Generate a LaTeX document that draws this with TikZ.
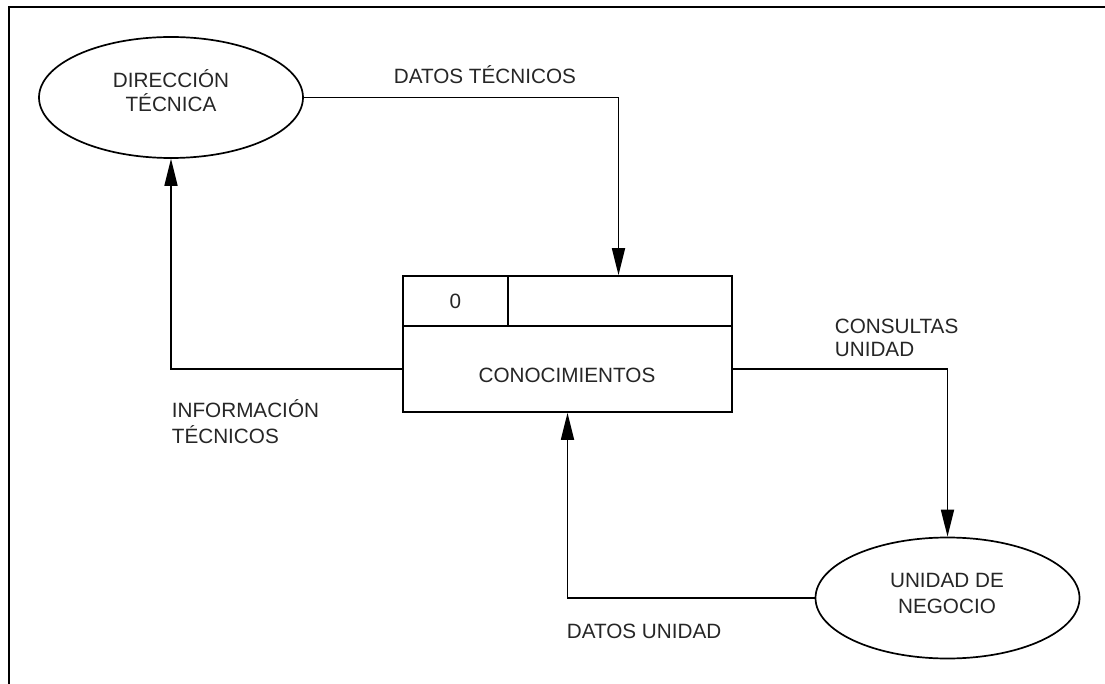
\documentclass[tikz,border=0pt]{standalone}
\usepackage{fontspec}
\setmainfont{Liberation Sans}
\usetikzlibrary{shapes.geometric,arrows.meta}
\begin{document}
\begin{tikzpicture}[x=1pt,y=-1pt,
  line width=1.7pt,
  txt/.style={font=\fontsize{20.7}{25}\selectfont, text=black!85, inner sep=0pt},
  ent/.style={draw, ellipse, minimum width=264pt, minimum height=121pt, inner sep=0pt},
  cell/.style={draw, rectangle, inner sep=0pt, txt},
  flow/.style={-{Triangle[length=27pt,width=13pt]}},
  lbl/.style={txt, align=left, anchor=base west},
  ctr/.style={txt, align=center, anchor=base}]
\useasboundingbox (0,0) rectangle (1105,684);
\draw (9,684) -- (9,7) -- (1105,7);
% external entities
\node[ent] (dt) at (171,97.5) {};
\node[ctr, font=\fontsize{20.7}{24}\selectfont] (dtt) at (171,112) {DIRECCIÓN\\TÉCNICA};
\node[ent] (un) at (947.5,598) {};
\node[ctr, font=\fontsize{20.7}{26}\selectfont] (unt) at (947,613) {UNIDAD DE\\NEGOCIO};
% process
\node[cell, minimum width=105pt, minimum height=50pt] (pid) at (455.5,301) {0};
\node[cell, minimum width=224pt, minimum height=50pt] (pbar) at (620,301) {};
\node[cell, minimum width=329pt, minimum height=86pt] (proc) at (567.5,369) {};
\node[txt] (ptxt) at (567,375) {CONOCIMIENTOS};
% flows
\draw[flow] (dt.east) -| ([xshift=-1.5pt]pbar.north);
\draw[flow] (proc.west) -| (dt.south);
\draw[flow] (proc.east) -| (un.north);
\draw[flow] (un.west) -| (proc.south);
% labels
\node[lbl] (l1) at (393,84) {DATOS TÉCNICOS};
\node[lbl, font=\fontsize{20.7}{23}\selectfont] (l2) at (834,356) {CONSULTAS\\UNIDAD};
\node[lbl, font=\fontsize{20.7}{26}\selectfont] (l3) at (171,443) {INFORMACIÓN\\TÉCNICOS};
\node[lbl] (l4) at (566,638) {DATOS UNIDAD};
\end{tikzpicture}
\end{document}
